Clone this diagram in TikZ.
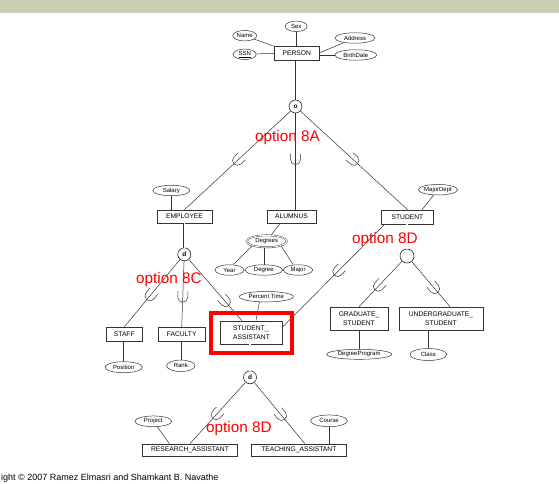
\documentclass[tikz,border=0pt]{standalone}
\usepackage{fontspec}
\setmainfont{Liberation Sans}
\usetikzlibrary{shapes.geometric,calc}
\definecolor{band}{RGB}{203,206,178}
\definecolor{optred}{RGB}{255,0,0}
\tikzset{
  ent/.style={draw=black!80, line width=0.6pt, rectangle, inner sep=0pt, minimum height=13, font=\fontsize{6.7}{9}\selectfont, align=center},
  ent2/.style={ent, minimum height=23},
  attr/.style={draw=black!80, line width=0.5pt, ellipse, inner sep=0pt, minimum height=10.5, font=\fontsize{6}{7}\selectfont},
  mattr/.style={attr, double, double distance=0.9pt, line width=0.4pt},
  spec/.style={draw=black!85, line width=0.6pt, circle, inner sep=0pt, minimum size=13, font=\fontsize{6.5}{7}\selectfont\bfseries},
  conn/.style={draw=black!80, line width=0.5pt},
  tot/.style={draw=black!80, line width=0.4pt, double, double distance=1.2pt},
  opt/.style={text=optred, font=\fontsize{15.3}{16}\selectfont, inner sep=0pt, anchor=base west},
  cuppos/.style={pos=#1, sloped, allow upside down},
  cup/.pic={\draw[line width=0.5pt, black!80] (-6,5) -- (0,5) arc (90:-90:5) -- (-6,-5);},
}
\begin{document}
\begin{tikzpicture}[x=1pt,y=-1pt]
\useasboundingbox (0,0) rectangle (559,484);
\fill[band] (0,0) rectangle (559,13);

% PERSON and its attributes
\node[ent, minimum width=45, minimum height=13.5] (person) at (296.8,53.3) {PERSON};
\node[attr, minimum width=22] (sex) at (296.2,26.3) {Sex};
\node[attr, minimum width=24] (name) at (244.7,35.7) {Name};
\node[attr, minimum width=23] (ssn) at (244.7,54.3) {\underline{SSN}};
\node[attr, minimum width=40] (addr) at (355,38) {Address};
\node[attr, minimum width=42] (bdate) at (355.8,55) {BirthDate};
\draw[conn] (sex) -- (sex |- person.north);
\draw[conn] (name) -- (person.north west);
\draw[conn] (ssn) -- (person.west);
\draw[conn] (addr) -- ($(person.east)+(0,-0.5)$);
\draw[conn] (bdate) -- (bdate -| person.east);

% overlapping specialization
\node[spec] (o1) at (295.5,106.5) {o};
\draw[conn] (o1) -- (o1 |- person.south);
\node[ent, minimum width=55] (emp) at (184.5,216.5) {EMPLOYEE};
\node[ent, minimum width=49] (alum) at (291.5,216.5) {ALUMNUS};
\node[ent, minimum width=52, minimum height=14] (stu) at (407.5,217) {STUDENT};
\draw[conn] (o1) -- (emp.north) pic[cuppos=0.5]{cup};
\draw[conn] (o1) -- (o1 |- alum.north) pic[cuppos=0.48]{cup};
\draw[conn] (o1) -- (stu.north) pic[cuppos=0.5]{cup};

\node[attr, minimum width=37] (sal) at (171.3,190.5) {Salary};
\draw[conn] (sal) -- (sal |- emp.north);
\node[attr, minimum width=38] (mdept) at (438,189.7) {MajorDept};
\draw[conn] (mdept) -- ($(stu.north)+(14.5,0)$);

% Degrees
\node[mattr, minimum width=40, minimum height=12] (degs) at (266.7,241.3) {Degrees};
\draw[conn] ($(alum.south)+(-11.5,0)$) -- (degs);
\node[attr, minimum width=29] (year) at (229.5,270) {Year};
\node[attr, minimum width=37.7] (degree) at (263.8,270) {Degree};
\node[attr, minimum width=29.3] (major) at (298,270) {Major};
\draw[conn] (degs.south west) -- ($(year.north)+(4,0)$);
\draw[conn] (degree.north) -- (degree.north |- degs.south);
\draw[conn] (degs.south east) -- ($(major.north)+(-5,0)$);

% EMPLOYEE disjoint specialization
\node[spec] (d1) at (184.3,254.3) {d};
\draw[tot] (d1 |- emp.south) -- (d1);
\node[ent, minimum width=36.7, minimum height=13.7] (staff) at (124.3,334) {STAFF};
\node[ent, minimum width=46.7, minimum height=13.7] (fac) at (181.7,334) {FACULTY};
\node[ent2, minimum width=61.6, align=left] (sa) at (251.5,332.5) {STUDENT\_\\ASSISTANT};
\draw[conn] (d1) -- (staff.north) pic[cuppos=0.54]{cup};
\draw[conn] (d1) -- (fac.north) pic[cuppos=0.55]{cup};
\draw[conn] (d1) -- ($(sa.north)+(-9.5,0)$) pic[cuppos=0.69]{cup};
\node[attr, minimum width=54] (pt) at (266.3,296.7) {Percent Time};
\draw[conn] ($(pt.south)+(-7,0)$) -- ($(sa.north)+(4.5,0)$);

\node[attr, minimum width=37.3, minimum height=11] (posn) at (123.7,367.2) {Position};
\draw[conn] (posn) -- (posn |- staff.south);
\node[attr, minimum width=28.3, minimum height=11.5] (rank) at (180.8,365.8) {Rank};
\draw[conn] (rank) -- (rank |- fac.south);

% STUDENT specialization
\node[spec, minimum size=14] (u1) at (407,256) {};
\draw[tot] (u1 |- stu.south) -- (u1);
\node[ent2, minimum width=58] (grad) at (359,318.5) {GRADUATE\_\\STUDENT};
\node[ent2, minimum width=84] (ugrad) at (441,318.5) {UNDERGRADUATE\_\\STUDENT};
\draw[conn] (u1) -- (grad.north) pic[cuppos=0.55]{cup};
\draw[conn] (u1) -- ($(ugrad.north)+(9,0)$) pic[cuppos=0.6]{cup};
\draw[conn] ($(stu.south west)+(3.5,0)$) -- ($(sa.east)+(0,-5.5)$) pic[cuppos=0.46]{cup};
\node[attr, minimum width=65, minimum height=10] (dprog) at (359.2,354.3) {DegreeProgram};
\draw[conn] (dprog) -- (dprog |- grad.south);
\node[attr, minimum width=36.7, minimum height=12] (cls) at (428.3,354.5) {Class};
\draw[conn] (cls) -- (cls |- ugrad.south);

% STUDENT_ASSISTANT specialization
\node[spec] (d2) at (250,377.3) {d};
\draw[tot] (d2 |- sa.south) -- (d2);
\node[ent, minimum width=94.6, minimum height=12.7] (ra) at (190,450.3) {RESEARCH\_ASSISTANT};
\node[ent, minimum width=94.3, minimum height=12.7] (ta) at (298.8,450.3) {TEACHING\_ASSISTANT};
\draw[conn] (d2) -- (ra.north) pic[cuppos=0.53]{cup};
\draw[conn] (d2) -- ($(ta.north)+(6,0)$) pic[cuppos=0.54]{cup};
\node[attr, minimum width=36.7, minimum height=10.7] (proj) at (153.3,421.3) {Project};
\draw[conn] (proj) -- ($(ra.north west)+(27,0)$);
\node[attr, minimum width=36.7, minimum height=11.7] (course) at (329,420.8) {Course};
\draw[conn] (course) -- (course |- ta.north);

% highlight
\node[draw=optred, line width=4pt, minimum width=81, minimum height=40, inner sep=0pt] (hl) at (251.8,333) {};

% labels
\node[opt] (l8a) at (255,141) {option 8A};
\node[opt] (l8c) at (136,283) {option 8C};
\node[opt] (l8d1) at (352,243) {option 8D};
\node[opt] (l8d2) at (206,432) {option 8D};
\node[anchor=base west, inner sep=0pt, font=\fontsize{9}{10}\selectfont] (copy) at (1,480) {ight © 2007 Ramez Elmasri and Shamkant B. Navathe};
\end{tikzpicture}
\end{document}
